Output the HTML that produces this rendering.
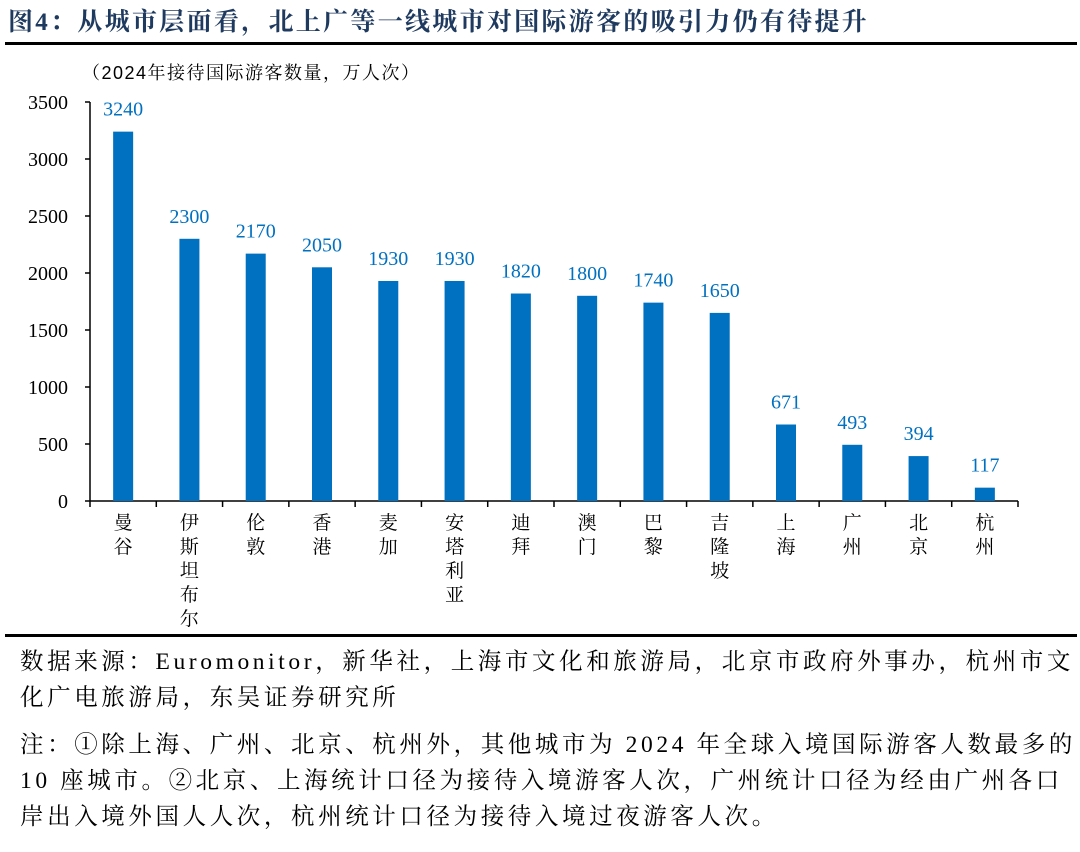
<!DOCTYPE html>
<html><head><meta charset="utf-8"><style>
body{margin:0;background:#fff;width:1080px;height:852px;overflow:hidden;position:relative;font-family:"Liberation Serif","Noto Serif CJK SC",serif}
.title{position:absolute;left:8px;top:2px;font-size:25px;color:#1f3a5f;font-weight:bold;letter-spacing:2.3px;white-space:nowrap}
.rule{position:absolute;left:5px;width:1072px;height:3px;background:#000}
.note{position:absolute;left:20px;font-size:23.5px;color:#000;line-height:36px;letter-spacing:3.6px;white-space:nowrap}
</style></head><body>
<div class="title">图4：从城市层面看，北上广等一线城市对国际游客的吸引力仍有待提升</div>
<div class="rule" style="top:42px"></div>
<svg width="1080" height="640" style="position:absolute;left:0;top:0" id="chart">
<text x="82" y="79" font-size="18" letter-spacing="1.5" font-family="Liberation Sans,Noto Serif CJK SC,sans-serif">（2024年接待国际游客数量，万人次）</text>
</svg>
<div class="rule" style="top:634px"></div>
<div class="note" style="top:644px">数据来源：Euromonitor，新华社，上海市文化和旅游局，北京市政府外事办，杭州市文<br>化广电旅游局，东吴证券研究所</div>
<div class="note" style="top:727px">注：①除上海、广州、北京、杭州外，其他城市为 2024 年全球入境国际游客人数最多的<br>10 座城市。②北京、上海统计口径为接待入境游客人次，广州统计口径为经由广州各口<br>岸出入境外国人人次，杭州统计口径为接待入境过夜游客人次。</div>
<script>
const categories=["曼谷","伊斯坦布尔","伦敦","香港","麦加","安塔利亚","迪拜","澳门","巴黎","吉隆坡","上海","广州","北京","杭州"];
const values=[3240,2300,2170,2050,1930,1930,1820,1800,1740,1650,671,493,394,117];
const yTicks=[0,500,1000,1500,2000,2500,3000,3500];
const svg=document.getElementById('chart');const NS='http://www.w3.org/2000/svg';
const x0=90,x1=1018,y0=501,yTop=102,yMax=3500;
const bw=(x1-x0)/categories.length;
const y=v=>y0-(v/yMax)*(y0-yTop);
function mk(t,a){const e=document.createElementNS(NS,t);for(const k in a)e.setAttribute(k,a[k]);svg.appendChild(e);return e;}
let ax=mk('line',{x1:x0,y1:yTop,x2:x0,y2:y0,stroke:'#000','stroke-width':1.5});


let bx=mk('line',{x1:x0,y1:y0,x2:x1,y2:y0,stroke:'#000','stroke-width':1.5});


yTicks.forEach(t=>{
 mk('line',{x1:x0-5,y1:y(t),x2:x0,y2:y(t),stroke:'#000','stroke-width':1.5});
 const tx=mk('text',{x:68,y:y(t)+7,'font-size':20,'text-anchor':'end'});tx.textContent=t;
 
 
});
for(let i=0;i<=categories.length;i++)mk('line',{x1:x0+i*bw,y1:y0,x2:x0+i*bw,y2:y0+6,stroke:'#000','stroke-width':1.5});
categories.forEach((c,i)=>{
 const cx=x0+bw*(i+0.5),v=values[i];
 const r=mk('rect',{x:cx-10,y:y(v),width:20,height:y0-y(v),fill:'#0070c0'});
 
 
 const l=mk('text',{x:cx,y:y(v)-16,'font-size':20,fill:'#0070c0','text-anchor':'middle'});l.textContent=v;
 
 
 [...c].forEach((ch,j)=>{
  const t=mk('text',{x:cx,y:529+j*24,'font-size':19,'text-anchor':'middle'});t.textContent=ch;
  
  
 });
});
</script>
</body></html>
